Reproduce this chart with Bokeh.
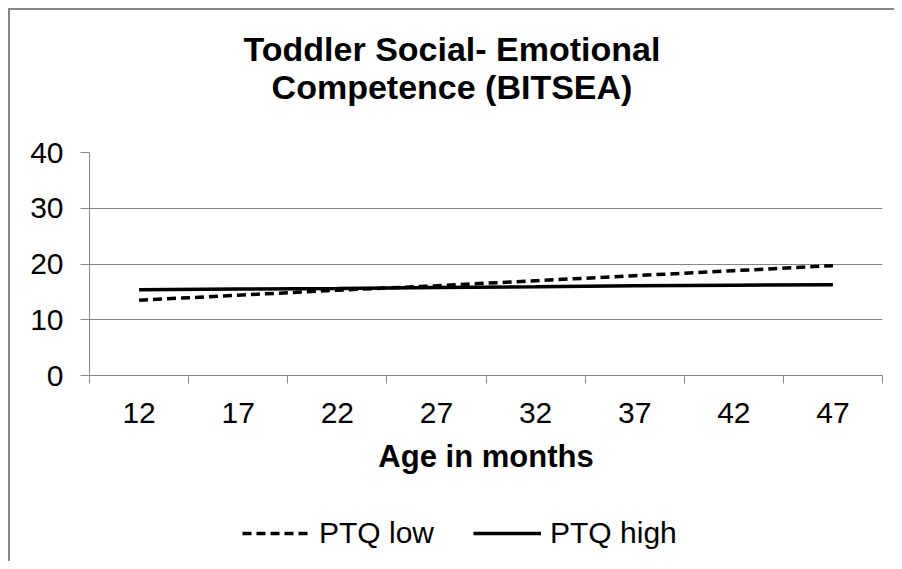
from bokeh.plotting import figure
from bokeh.models import Range1d, FixedTicker, Legend, LegendItem, Div
from bokeh.layouts import column
from bokeh.embed import file_html
from bokeh.resources import INLINE

ages = [12, 17, 22, 27, 32, 37, 42, 47]
ptq_low = [13.5, 14.4, 15.3, 16.1, 17.0, 17.9, 18.8, 19.7]
ptq_high = [15.4, 15.5, 15.6, 15.8, 15.9, 16.1, 16.2, 16.3]
y_ticks = [0, 10, 20, 30, 40]
title_lines = ["Toddler Social- Emotional", "Competence (BITSEA)"]
x_title = "Age in months"
series_names = ["PTQ low", "PTQ high"]

FONT = "Liberation Sans"
GRAY = "#868686"
W = 884

# ---- title ----
title = Div(text=("<div style=\"width:%dpx;text-align:center;font-family:'Liberation Sans';"
                  "font-weight:bold;font-size:34px;line-height:38px;padding-top:20px;color:black;\">" % W
                  + title_lines[0] + "<br>" + title_lines[1] + "</div>"),
            width=W, height=110, margin=0)

# ---- main chart ----
H = 375
p = figure(width=W, height=H, output_backend="svg", toolbar_location=None,
           x_range=Range1d(9.5, 49.5), y_range=Range1d(0, 40),
           min_border_left=79, min_border_right=W - 79 - 793,
           min_border_top=32, min_border_bottom=H - 32 - 223, margin=0)
p.outline_line_color = None
p.background_fill_color = "white"
p.border_fill_color = "white"

boundaries = [a - 2.5 for a in ages] + [ages[-1] + 2.5]
p.xaxis.ticker = FixedTicker(ticks=ages, minor_ticks=boundaries)
p.xaxis.major_tick_out = 0
p.xaxis.major_tick_in = 0
p.xaxis.minor_tick_out = 8
p.xaxis.minor_tick_in = 0
p.xaxis.minor_tick_line_color = GRAY
p.xaxis.minor_tick_line_width = 1
p.xaxis.axis_line_color = GRAY
p.xaxis.major_label_text_font = FONT
p.xaxis.major_label_text_font_size = "30px"
p.xaxis.major_label_text_color = "black"
p.xaxis.major_label_standoff = 19
p.xaxis.axis_label = x_title
p.xaxis.axis_label_text_font = FONT
p.xaxis.axis_label_text_font_size = "31px"
p.xaxis.axis_label_text_font_style = "bold"
p.xaxis.axis_label_text_color = "black"
p.xaxis.axis_label_standoff = 13
p.xgrid.grid_line_color = None

p.yaxis.ticker = FixedTicker(ticks=y_ticks, minor_ticks=[])
p.yaxis.major_tick_out = 9
p.yaxis.major_tick_in = 0
p.yaxis.major_tick_line_color = GRAY
p.yaxis.axis_line_color = GRAY
p.yaxis.minor_tick_line_color = None
p.yaxis.major_label_text_font = FONT
p.yaxis.major_label_text_font_size = "30px"
p.yaxis.major_label_text_color = "black"
p.yaxis.major_label_standoff = 17
p.ygrid.ticker = FixedTicker(ticks=y_ticks)
p.ygrid.grid_line_color = GRAY
p.ygrid.grid_line_width = 1

LOW_STYLE = dict(line_color="black", line_width=3.5, line_dash="9 5")
HIGH_STYLE = dict(line_color="black", line_width=3.5)
p.line(ages, ptq_low, **LOW_STYLE)
p.line(ages, ptq_high, **HIGH_STYLE)

# ---- legend strip (its frame is aligned with the chart frame by the column) ----
LH = 66
pl = figure(width=W, height=LH, output_backend="svg", toolbar_location=None,
            x_axis_type=None, y_axis_type=None, x_range=Range1d(0, 1), y_range=Range1d(0, 1),
            min_border=0, margin=0)
pl.outline_line_color = None
pl.grid.grid_line_color = None
l_low = pl.line(ages, ptq_low, **LOW_STYLE)     # out of this strip's range: only the legend shows
l_high = pl.line(ages, ptq_high, **HIGH_STYLE)
legend = Legend(items=[LegendItem(label=series_names[0], renderers=[l_low]),
                       LegendItem(label=series_names[1], renderers=[l_high])],
                orientation="horizontal", location=(153, 11),
                label_text_font=FONT, label_text_font_size="30px", label_text_color="black",
                glyph_width=68, glyph_height=20, label_standoff=9, spacing=39,
                padding=0, margin=0, border_line_color=None, background_fill_alpha=0)
pl.add_layout(legend)

page = column(title, p, pl, spacing=0, margin=0)
page.styles = {"border-left": "2px solid #878787", "border-top": "2px solid #878787",
               "margin-left": "8px", "margin-top": "8px"}

open("out.html", "w").write(file_html(page, INLINE))
